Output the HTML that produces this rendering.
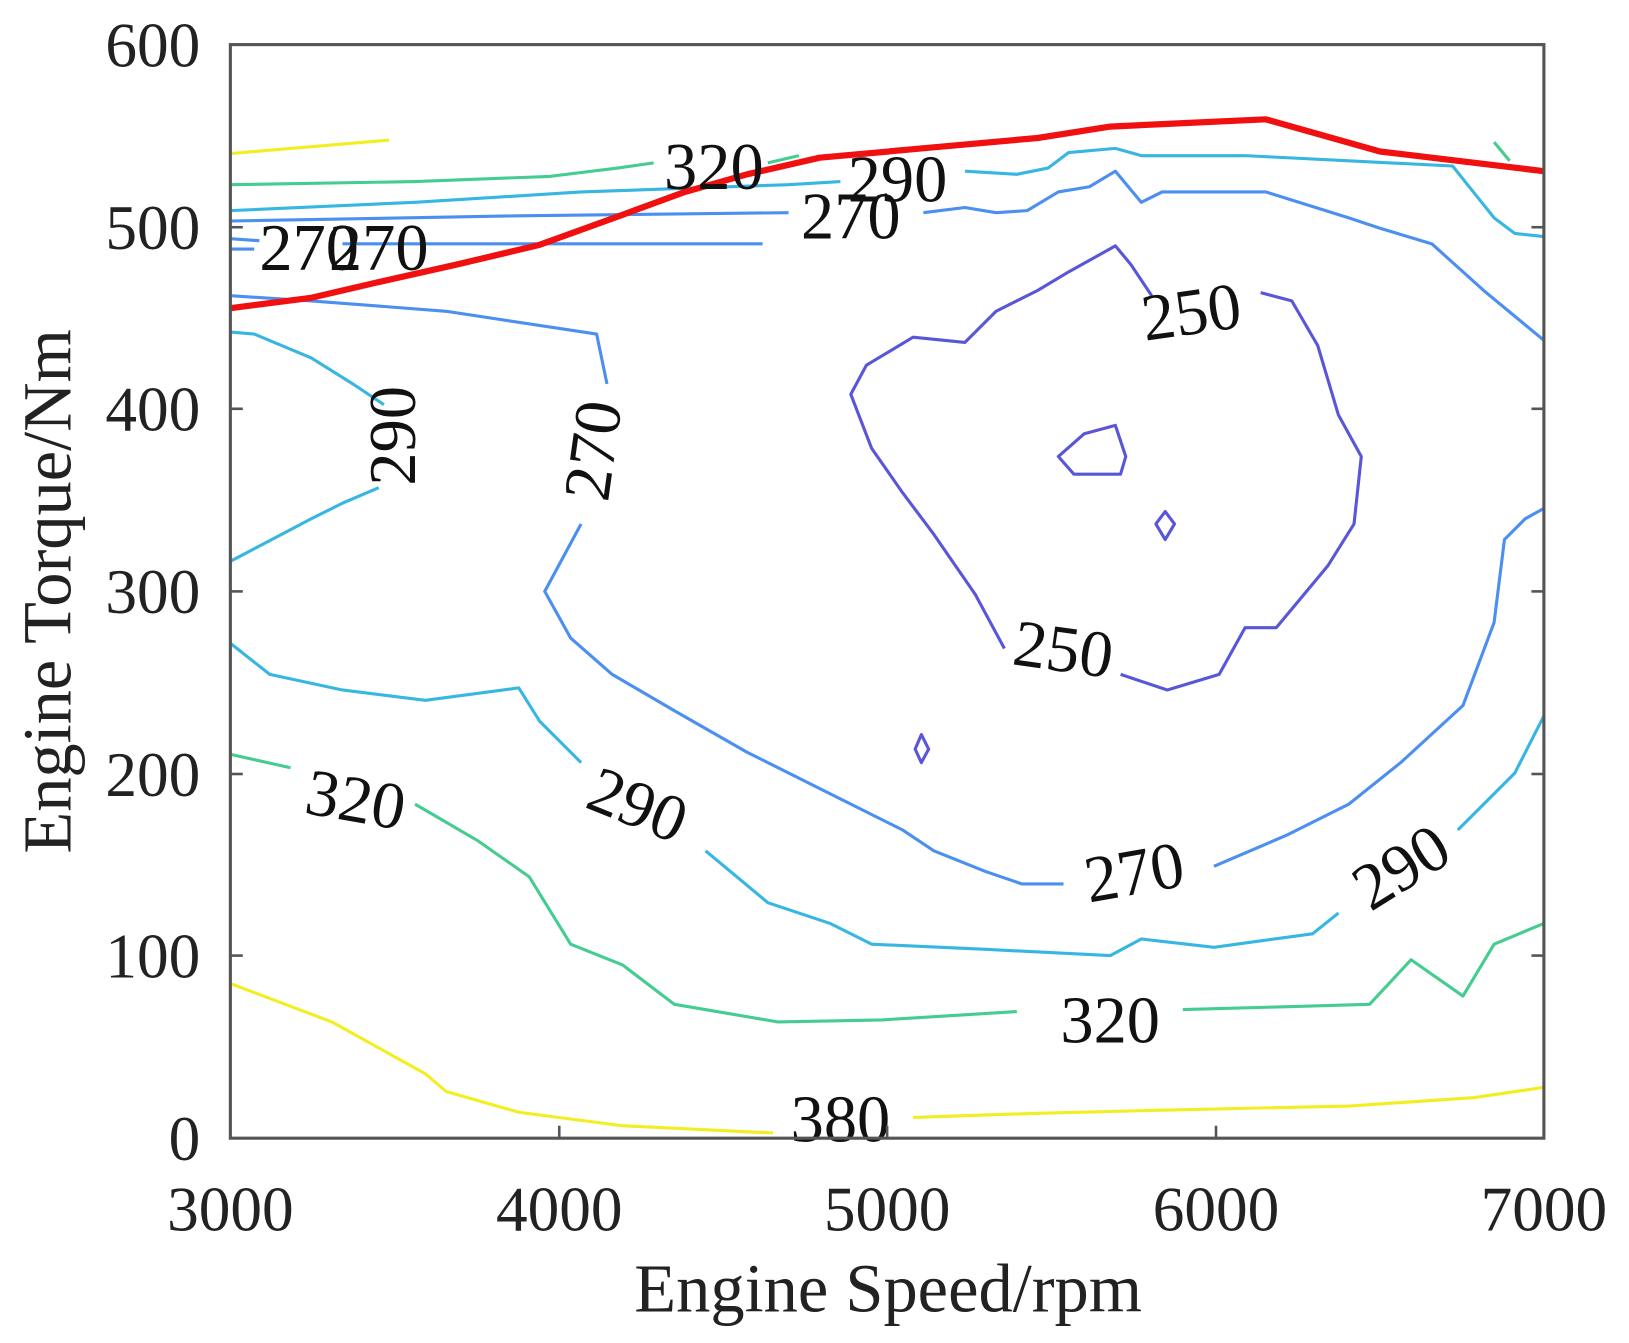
<!DOCTYPE html>
<html><head><meta charset="utf-8"><style>html,body{margin:0;padding:0;background:#fff}svg{display:block}</style></head>
<body>
<svg width="1629" height="1343" viewBox="0 0 1570 1294.4" xmlns="http://www.w3.org/2000/svg" font-family="Liberation Serif, serif">
<rect width="1570" height="1295" fill="#fff"/>
<g fill="none" stroke-width="3" stroke-linejoin="round">
<g stroke="#f2ee22">
<polyline points="222,148 375,135"/>
<polyline points="222,948 320,985 410,1035 430,1052 500,1072 600,1085 745,1092"/>
<polyline points="880,1077 1000,1073 1120,1070 1300,1066 1420,1058 1488,1048"/>
</g>
<g stroke="#45cc90">
<polyline points="222,178 400,175 530,170 595,162 630,157"/>
<polyline points="740,157 770,150"/>
<polyline points="1440,137 1455,155"/>
<polyline points="222,727 280,740"/>
<polyline points="400,775 460,810 510,845 550,910 600,930 650,968 750,985 850,983 980,975"/>
<polyline points="1140,973 1250,970 1320,968 1360,925 1410,960 1440,910 1488,890"/>
</g>
<g stroke="#38b6e2">
<polyline points="222,203 400,195 560,185 760,178 810,175"/>
<polyline points="930,165 980,168 1010,162 1030,147 1075,143 1100,150 1200,150 1300,155 1400,160 1420,185 1440,210 1460,225 1488,228"/>
<polyline points="222,320 245,322 300,345 340,370 370,390"/>
<polyline points="365,470 330,485 300,500 222,541"/>
<polyline points="222,620 260,650 330,665 410,675 500,663 520,695 560,735"/>
<polyline points="680,820 710,845 740,870 800,890 840,910 950,915 1070,921 1100,905 1170,913 1265,900 1290,880"/>
<polyline points="1405,800 1430,775 1460,745 1488,690"/>
</g>
<g stroke="#4b8ff0">
<polyline points="222,213 500,208 760,205"/>
<polyline points="890,205 930,200 960,205 990,203 1020,185 1050,180 1075,165 1100,195 1120,185 1220,185 1300,210 1330,220 1380,235 1430,280 1488,328"/>
<polyline points="222,230 250,232"/>
<polyline points="330,235 735,235"/>
<polyline points="222,240 245,240"/>
<polyline points="222,285 300,290 430,300 575,322 585,370"/>
<polyline points="560,505 525,570 550,615 590,650 650,685 720,725 800,765 870,800 900,820 950,840 985,852 1025,852"/>
<polyline points="1170,835 1240,805 1300,775 1350,735 1410,680 1440,600 1450,520 1470,500 1488,490"/>
</g>
<g stroke="#5a56d8">
<polyline points="1215,282 1245,290 1270,333 1290,400 1312,440 1305,505 1280,545 1255,575 1230,605 1200,605 1175,650 1125,665 1080,650"/>
<polyline points="968,625 940,573 900,515 870,475 840,432 820,380 835,352 880,325 930,330 940,320 960,300 1000,280 1030,262 1075,237 1090,255 1110,285"/>
<polygon points="1020,440 1045,418 1075,410 1085,440 1080,457 1035,457"/>
<polygon points="1123,493 1132,505 1123,520 1114,505"/>
<polygon points="888,708 895,722 888,735 882,722"/>
</g>
<polyline stroke="#f01010" stroke-width="6" points="222,297 300,287 360,273 440,255 520,236 600,207 660,185 720,168 790,152 900,142 1000,133 1070,122 1220,115 1330,146 1488,165"/>
</g>
<g font-size="64" fill="#111" text-anchor="middle">
<text x="688" y="182">320</text>
<text x="865" y="194">290</text>
<text x="820" y="230">270</text>
<text x="298" y="260">270</text>
<text x="365" y="260">270</text>
<text x="1148" y="322" transform="rotate(-8 1148 300)">250</text>
<text x="1025" y="647" transform="rotate(8 1025 625)">250</text>
<text x="420" y="440" transform="rotate(-90 400 440)">290</text>
<text x="608" y="455" transform="rotate(-82 590 455)">270</text>
<text x="615" y="797" transform="rotate(22 615 775)">290</text>
<text x="343" y="792" transform="rotate(10 343 770)">320</text>
<text x="1093" y="862" transform="rotate(-10 1093 840)">270</text>
<text x="1350" y="857" transform="rotate(-32 1350 835)">290</text>
<text x="1070" y="1005">320</text>
<text x="810" y="1100">380</text>
</g>
<rect x="222" y="43" width="1266" height="1054" fill="none" stroke="#555" stroke-width="3"/>
<g stroke="#555" stroke-width="2.5">
<line x1="222" y1="219" x2="234" y2="219"/><line x1="222" y1="394" x2="234" y2="394"/>
<line x1="222" y1="570" x2="234" y2="570"/><line x1="222" y1="746" x2="234" y2="746"/>
<line x1="222" y1="921" x2="234" y2="921"/>
<line x1="539" y1="1097" x2="539" y2="1085"/><line x1="855" y1="1097" x2="855" y2="1085"/>
<line x1="1172" y1="1097" x2="1172" y2="1085"/>
<line x1="1488" y1="219" x2="1476" y2="219"/><line x1="1488" y1="394" x2="1476" y2="394"/>
<line x1="1488" y1="570" x2="1476" y2="570"/><line x1="1488" y1="746" x2="1476" y2="746"/>
<line x1="1488" y1="921" x2="1476" y2="921"/>
</g>
<g font-size="61" fill="#222" text-anchor="end">
<text x="193" y="64">600</text><text x="193" y="240">500</text><text x="193" y="415">400</text>
<text x="193" y="591">300</text><text x="193" y="767">200</text><text x="193" y="942">100</text>
<text x="193" y="1118">0</text>
</g>
<g font-size="61" fill="#222" text-anchor="middle">
<text x="222" y="1186">3000</text><text x="539" y="1186">4000</text><text x="855" y="1186">5000</text>
<text x="1172" y="1186">6000</text><text x="1488" y="1186">7000</text>
</g>
<g font-size="66" fill="#222" text-anchor="middle">
<text x="856" y="1264">Engine Speed/rpm</text>
<text x="0" y="0" transform="translate(68 570) rotate(-90)">Engine Torque/Nm</text>
</g>
</svg>
</body></html>
